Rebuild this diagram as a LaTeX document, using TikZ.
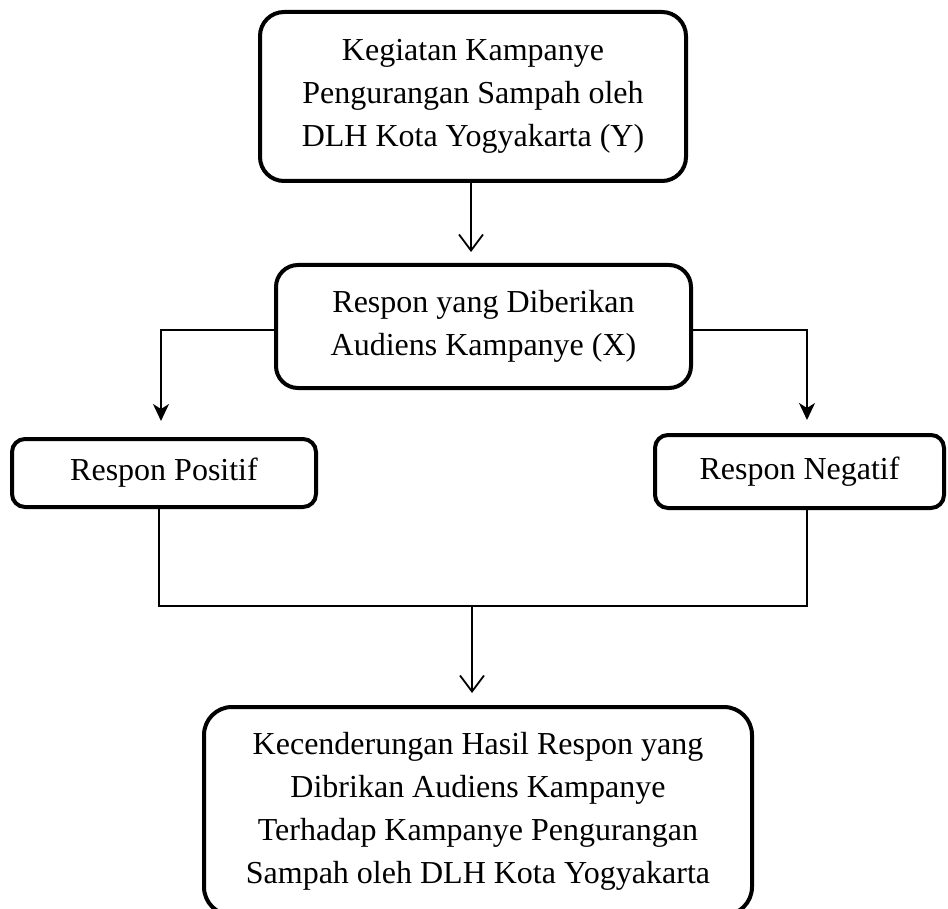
\documentclass[tikz,border=0pt]{standalone}
\usepackage{fontspec}
\setmainfont{Liberation Serif}
\usetikzlibrary{arrows.meta}
\begin{document}
\begin{tikzpicture}[x=1pt,y=-1pt,
  box/.style={draw=black, line width=4pt, fill=white, align=center,
    inner sep=0pt, font=\fontsize{32}{43}\selectfont},
  bigbox/.style={box, rounded corners=24pt},
  smallbox/.style={box, rounded corners=13pt},
  conn/.style={draw=black, line width=1.8pt},
  openarrow/.style={conn, -{Straight Barb[length=16pt,width=24pt,line width=1.8pt]}},
  fillarrow/.style={conn, -{Stealth[length=17pt,width=16pt,inset=5pt]}}
]
\useasboundingbox (0,0) rectangle (948,909);
\clip (0,0) rectangle (948,909);
\fill[white] (0,0) rectangle (948,909);

\node[bigbox, minimum width=426pt, minimum height=169pt] (top) at (473,96.5)
  {\raisebox{-3pt}{\parbox{420pt}{\centering Kegiatan Kampanye\\Pengurangan Sampah oleh\\DLH Kota Yogyakarta (Y)}}};
\node[bigbox, minimum width=415pt, minimum height=123pt, rounded corners=22pt] (mid) at (483.5,326.5)
  {Respon yang Diberikan\\Audiens Kampanye (X)};
\node[smallbox, minimum width=304pt, minimum height=68pt] (left) at (164,473)
  {Respon Positif};
\node[smallbox, minimum width=289pt, minimum height=73pt] (right) at (799.5,471.5)
  {Respon Negatif};
\node[bigbox, minimum width=548pt, minimum height=208pt, rounded corners=28pt] (bottom) at (478,811)
  {Kecenderungan Hasil Respon yang\\Dibrikan Audiens Kampanye\\Terhadap Kampanye Pengurangan\\Sampah oleh DLH Kota Yogyakarta};

\coordinate (ta) at (471,0);
\coordinate (la) at (161,0);
\coordinate (ra) at (807,0);
\coordinate (jl) at (159,606);
\coordinate (jr) at (807,606);
\coordinate (ca) at (472,606);

\draw[openarrow, shorten >=11pt] (top.south -| ta) -- (mid.north -| ta);
\draw[fillarrow, shorten >=16pt] (mid.west |- 0,330) -| (left.north -| la);
\draw[fillarrow, shorten >=13pt] (mid.east |- 0,330) -| (right.north -| ra);
\draw[conn] (left.south -| jl) -- (jl) -- (jr) -- (right.south -| jr);
\draw[openarrow, shorten >=12pt] (ca) -- (bottom.north -| ca);
\end{tikzpicture}
\end{document}
